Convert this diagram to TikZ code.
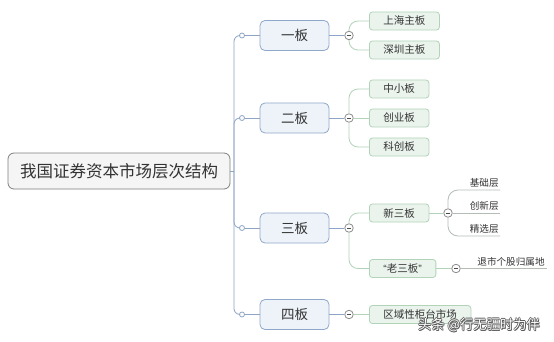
\documentclass[tikz,border=0pt]{standalone}
\usepackage{fontspec}
\setmainfont{Noto Sans CJK SC}
\newfontfamily\quotefont{Liberation Sans}
\usetikzlibrary{positioning}
\definecolor{trunkblue}{HTML}{8DA4C5}
\definecolor{topicfill}{HTML}{EEF3FA}
\definecolor{topicline}{HTML}{8FA7C9}
\definecolor{subfill}{HTML}{EAF4EC}
\definecolor{subline}{HTML}{B1D4B9}
\definecolor{leafgray}{HTML}{B4BCB6}
\definecolor{inktext}{HTML}{333333}
\tikzset{every picture/.style={line width=0.8pt}}

\begin{document}
\begin{tikzpicture}[x=1pt,y=-1pt,
    central/.style={draw=black!50,fill=black!4,rounded corners=6pt,minimum width=222pt,minimum height=36pt,inner sep=0pt,text=inktext,font=\fontsize{16.5}{18}\selectfont},
    topic/.style={draw=topicline,fill=topicfill,rounded corners=5pt,minimum width=69pt,minimum height=30pt,inner sep=0pt,text=inktext,font=\fontsize{13.5}{15}\selectfont},
    subtopic/.style={draw=subline,fill=subfill,rounded corners=3pt,minimum height=18pt,inner xsep=14pt,inner ysep=0pt,anchor=west,text=inktext,font=\fontsize{10.5}{12}\selectfont},
    leaf/.style={inner xsep=1pt,inner ysep=2pt,anchor=south east,text=inktext,font=\fontsize{9.6}{11}\selectfont},
    knob/.style={circle,draw=trunkblue,fill=white,minimum size=5pt,inner sep=0pt},
    fold/.style={circle,draw=black!45,fill=white,minimum size=8.5pt,inner sep=0pt,
        path picture={\draw[black!70,line width=0.7pt] ([xshift=-2.2pt]path picture bounding box.center) -- ([xshift=2.2pt]path picture bounding box.center);}},
    trunkline/.style={draw=trunkblue},
    branchline/.style={draw=subline,rounded corners=9pt},
    leafconn/.style={draw=leafgray,rounded corners=10pt},
    markfont/.style={font=\fontsize{13.3}{15}\selectfont}]

    % page and margins
    \fill[white] (0,0) rectangle (554,342);
    \useasboundingbox (0,0) rectangle (554,342);

    % central topic
    \node[central] (root) at (119,171) {我国证券资本市场层次结构};
    \coordinate (hub) at (234,171);

    % main branches
    \node[topic] (b1) at (294.5,35.5) {一板};
    \node[topic] (b2) at (294.5,118) {二板};
    \node[topic] (b3) at (294.5,228) {三板};
    \node[topic] (b4) at (294.5,314.5) {四板};

    % knobs on the trunk and fold buttons
    \foreach \k/\y in {1/35.5,2/118,3/228,4/314.5} {
        \node[knob] (o\k) at (242,\y) {};
        \node[fold] (m\k) at (349,\y) {};
    }

    % trunk
    \draw[trunkline] (root.east) -- (hub);
    \foreach \k in {1,...,4} {
        \draw[trunkline,rounded corners=6pt] (hub) |- (o\k);
        \draw[trunkline] (o\k) -- (b\k);
        \draw[trunkline] (b\k) -- (m\k);
    }

    % 一板
    \node[subtopic] (c11) at (369,21) {上海主板};
    \node[subtopic] (c12) at (369,50) {深圳主板};
    \draw[branchline] (m1) |- (c11);
    \draw[branchline] (m1) |- (c12);

    % 二板
    \node[subtopic] (c21) at (369,89) {中小板};
    \node[subtopic] (c22) at (369,118) {创业板};
    \node[subtopic] (c23) at (369,147) {科创板};
    \draw[branchline] (m2) |- (c21);
    \draw[branchline] (m2) -- (c22);
    \draw[branchline] (m2) |- (c23);

    % 三板
    \node[subtopic] (c31) at (369,213) {新三板};
    \node[subtopic] (c32) at (369,268.5) {{\quotefont “}老三板{\quotefont ”}};
    \draw[branchline] (m3) |- (c31);
    \draw[branchline] (m3) |- (c32);

    % 新三板 layers
    \node[fold] (m5) at (448,213) {};
    \draw[branchline] (c31) -- (m5);
    \node[leaf] (t1) at (500,190) {基础层};
    \node[leaf] (t2) at (500,213) {创新层};
    \node[leaf] (t3) at (500,236) {精选层};
    \draw[leafconn] (m5) |- (t1.south east);
    \draw[leafconn] (m5) -- (t2.south east);
    \draw[leafconn] (m5) |- (t3.south east);

    % 老三板
    \node[fold] (m6) at (456,268.5) {};
    \draw[branchline] (c32) -- (m6);
    \node[leaf,inner xsep=2pt] (t4) at (547,268.5) {退市个股归属地};
    \draw[leafconn] (m6) -- (t4.south east);

    % 四板
    \node[subtopic] (c41) at (369,314.5) {区域性柜台市场};
    \draw[branchline] (m4) -- (c41);

    % watermark (dark outline, white face)
    \foreach \dx/\dy in {-0.7/0,0.7/0,0/-0.7,0/0.7,0.7/0.7} {
        \node[markfont,text=black!65] at (479+\dx,325+\dy) {头条 @行无疆时为伴};
    }
    \node[markfont,text=white] (mark) at (479,325) {头条 @行无疆时为伴};
\end{tikzpicture}
\end{document}
